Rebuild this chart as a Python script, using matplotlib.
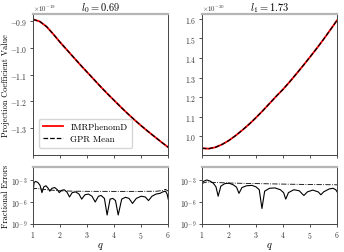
import numpy as np
import matplotlib
matplotlib.use("Agg")
from matplotlib import pyplot as plt
from matplotlib.ticker import FuncFormatter

plt.rcParams['font.family'] = 'serif'
plt.rcParams['font.serif'] = ['cmr10', 'DejaVu Serif']
plt.rcParams['mathtext.fontset'] = 'cm'

# mass ratio grid for the projection coefficients
q = [1.00, 1.25, 1.50, 1.75, 2.00, 2.25, 2.50, 2.75, 3.00, 3.25, 3.50,
     3.75, 4.00, 4.25, 4.50, 4.75, 5.00, 5.25, 5.50, 5.75, 6.00]

# coefficient l0 (in units of 1e-19)
imr_l0 = [-0.895, -0.903, -0.922, -0.950, -0.980, -1.008, -1.036, -1.064,
          -1.091, -1.118, -1.145, -1.171, -1.196, -1.221, -1.245, -1.268,
          -1.290, -1.311, -1.331, -1.351, -1.370]
gpr_l0 = [-0.895, -0.903, -0.922, -0.950, -0.980, -1.008, -1.036, -1.064,
          -1.091, -1.118, -1.145, -1.171, -1.196, -1.221, -1.245, -1.268,
          -1.290, -1.311, -1.331, -1.351, -1.370]

# coefficient l1 (in units of 1e-20)
imr_l1 = [0.940, 0.938, 0.945, 0.960, 0.980, 1.005, 1.033, 1.063, 1.096,
          1.131, 1.168, 1.205, 1.240, 1.279, 1.320, 1.362, 1.405, 1.449,
          1.495, 1.543, 1.592]
gpr_l1 = [0.940, 0.938, 0.945, 0.960, 0.980, 1.005, 1.033, 1.063, 1.096,
          1.131, 1.168, 1.205, 1.240, 1.279, 1.320, 1.362, 1.405, 1.449,
          1.495, 1.543, 1.592]

titles = [r'$l_0 = 0.69$', r'$l_1 = 1.73$']
offsets = [r'$\times10^{-19}$', r'$\times10^{-20}$']
yticks_top = [[-0.9, -1.0, -1.1, -1.2, -1.3], [1.0, 1.1, 1.2, 1.3, 1.4, 1.5, 1.6]]
ylims_top = [(-1.40, -0.874), (0.904, 1.625)]

# fractional errors (log10), l0
q_err0 = [1.00, 1.04, 1.10, 1.18, 1.26, 1.33, 1.40, 1.48, 1.56, 1.62, 1.70,
          1.80, 1.90, 1.97, 2.05, 2.15, 2.25, 2.35, 2.45, 2.58, 2.70, 2.80,
          2.92, 3.05, 3.18, 3.30, 3.42, 3.52, 3.64, 3.74, 3.85, 3.95, 4.05,
          4.15, 4.28, 4.42, 4.55, 4.68, 4.82, 5.00, 5.15, 5.27, 5.40, 5.55,
          5.70, 5.80, 5.90, 5.96, 6.00]
log_err0 = [-4.6, -3.3, -3.15, -3.3, -3.7, -4.7, -3.9, -3.75, -4.1, -4.5,
            -4.1, -4.0, -4.3, -4.7, -4.4, -4.3, -4.6, -5.3, -4.7, -4.6,
            -4.9, -5.6, -5.0, -4.9, -5.2, -6.0, -5.2, -5.1, -5.5, -7.8,
            -5.6, -5.5, -5.8, -7.8, -5.6, -5.35, -5.5, -6.2, -5.5, -5.2,
            -5.3, -5.8, -5.2, -4.9, -4.8, -4.6, -4.5, -4.9, -5.6]
q_sig0 = [1.0, 1.05, 1.2, 1.5, 2.0, 2.5, 3.0, 4.0, 5.0, 5.6, 5.8, 5.9, 6.0]
log_sig0 = [-4.4, -4.1, -4.15, -4.3, -4.45, -4.5, -4.52, -4.53, -4.53,
            -4.5, -4.4, -4.25, -4.5]

# fractional errors (log10), l1
q_err1 = [1.00, 1.08, 1.18, 1.30, 1.42, 1.52, 1.60, 1.70, 1.85, 2.00, 2.15,
          2.28, 2.37, 2.48, 2.65, 2.85, 3.00, 3.12, 3.22, 3.32, 3.50, 3.70,
          3.90, 4.02, 4.10, 4.20, 4.40, 4.60, 4.77, 4.90, 5.10, 5.30, 5.40,
          5.50, 5.70, 5.85, 5.95, 6.00]
log_err1 = [-3.4, -3.1, -2.95, -3.1, -3.4, -3.9, -5.2, -3.8, -3.45, -3.4,
            -3.6, -3.95, -4.8, -4.0, -3.75, -3.7, -3.9, -4.3, -6.9, -4.5,
            -4.1, -4.05, -4.3, -4.7, -5.6, -4.7, -4.3, -4.45, -5.1, -4.6,
            -4.35, -4.6, -5.0, -4.6, -4.2, -4.1, -4.3, -4.6]
q_sig1 = [1.0, 1.15, 1.3, 1.5, 2.0, 3.0, 4.0, 5.0, 6.0]
log_sig1 = [-3.45, -3.25, -3.25, -3.3, -3.37, -3.45, -3.52, -3.58, -3.62]

imr = [imr_l0, imr_l1]
gpr = [gpr_l0, gpr_l1]
errs = [(q_err0, log_err0, q_sig0, log_sig0), (q_err1, log_err1, q_sig1, log_sig1)]

fig = plt.figure(figsize=(3.44, 2.53), dpi=100)
lefts = [0.096, 0.587]
w = 0.393


def style_spines(ax):
    for s in ['left', 'right', 'bottom']:
        ax.spines[s].set_color('#444444')
        ax.spines[s].set_linewidth(0.7)
    ax.spines['top'].set_color('#b5b5b5')
    ax.spines['top'].set_linewidth(1.6)
    ax.tick_params(labelsize=5.5, width=0.6, length=2.5, pad=1.5, colors='#333333')


for i in range(2):
    ax = fig.add_axes([lefts[i], 0.382, w, 0.560])
    ax.plot(q, imr[i], color='red', lw=1.3, label='IMRPhenomD')
    ax.plot(q, gpr[i], color='black', lw=0.9, ls='--', label='GPR Mean')
    ax.set_xlim(1, 6)
    ax.set_xticks([1, 2, 3, 4, 5, 6])
    ax.set_xticklabels([])
    ax.set_ylim(*ylims_top[i])
    ax.set_yticks(yticks_top[i])
    ax.yaxis.set_major_formatter(FuncFormatter(lambda v, p: r'$%.1f$' % v))
    ax.set_title(titles[i], fontsize=7.5, pad=2)
    ax.text(0.0, 1.006, offsets[i], transform=ax.transAxes, fontsize=5,
            ha='left', va='bottom', color='#333333')
    style_spines(ax)
    if i == 0:
        ax.set_ylabel('Projection Coefficient Value', fontsize=6)
        ax.yaxis.set_label_coords(-0.17, 0.5)
        ax.legend(loc='lower left', fontsize=6.5, bbox_to_anchor=(0.01, 0.02),
                  handlelength=2.2, borderpad=0.5, labelspacing=0.4)

    ax2 = fig.add_axes([lefts[i], 0.112, w, 0.222])
    qe, le, qs, ls_ = errs[i]
    ax2.semilogy(qe, 10.0 ** np.array(le), color='black', lw=0.8)
    ax2.semilogy(qs, 10.0 ** np.array(ls_), color='black', lw=0.6, ls='-.')
    ax2.set_xlim(1, 6)
    ax2.set_ylim(1e-9, 6e-2)
    ax2.set_xticks([1, 2, 3, 4, 5, 6])
    ax2.set_xticklabels([r'$%d$' % t for t in [1, 2, 3, 4, 5, 6]])
    ax2.set_yticks([1e-9, 1e-6, 1e-3])
    ax2.set_yticklabels([r'$10^{-9}$', r'$10^{-6}$', r'$10^{-3}$'])
    ax2.minorticks_off()
    ax2.set_xlabel(r'$q$', fontsize=7.5, labelpad=0)
    style_spines(ax2)
    if i == 0:
        ax2.set_ylabel('Fractional Errors', fontsize=6)
        ax2.yaxis.set_label_coords(-0.17, 0.5)

fig.savefig('out.png', dpi=100)
